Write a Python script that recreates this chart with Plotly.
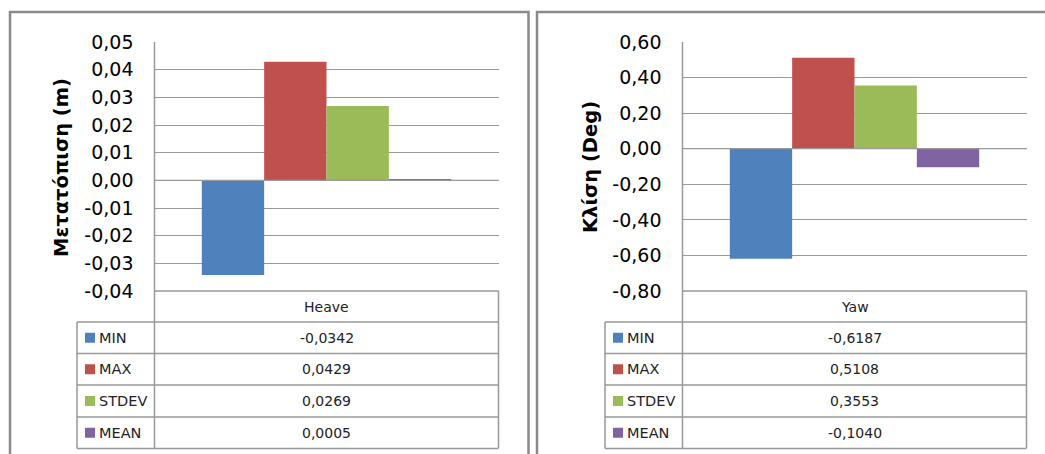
import plotly.graph_objects as go

# Statistics per motion component
stat_names = ["MIN", "MAX", "STDEV", "MEAN"]
stat_colors = ["#4F81BD", "#C0504D", "#9BBB59", "#8064A2"]

heave_label = "Heave"
heave_values = [-0.0342, 0.0429, 0.0269, 0.0005]
heave_ticks = [-0.04, -0.03, -0.02, -0.01, 0.00, 0.01, 0.02, 0.03, 0.04, 0.05]
heave_title = "Μετατόπιση (m)"

yaw_label = "Yaw"
yaw_values = [-0.6187, 0.5108, 0.3553, -0.1040]
yaw_ticks = [-0.80, -0.60, -0.40, -0.20, 0.00, 0.20, 0.40, 0.60]
yaw_title = "Κλίση (Deg)"

W, H = 1045, 454
FONT = "DejaVu Sans"
GRID = "#999999"
FRAME = "#8a8a8a"


def px(x):
    return x / W


def py(y):
    return 1 - y / H


def fmt(v, nd):
    s = f"{v:.{nd}f}".replace(".", ",")
    return "0," + "0" * nd if s.startswith("-") and float(v) == 0 else s


fig = go.Figure()
shapes = []
annotations = []

# Layout of a panel (in pixels)
PLOT_TOP, PLOT_BOTTOM = 42, 291
ROWS = [291, 322, 353.5, 385, 417, 448.5]

panels = [
    dict(values=heave_values, ticks=heave_ticks, label=heave_label, title=heave_title,
         nd_tick=2, frame=(10, 528.5), left=154.5, right=498.5, leg=77, title_xy=(61, 168)),
    dict(values=yaw_values, ticks=yaw_ticks, label=yaw_label, title=yaw_title,
         nd_tick=2, frame=(537, 1070), left=682.5, right=1026.5, leg=605, title_xy=(590, 167)),
]

for i, p in enumerate(panels):
    sfx = "" if i == 0 else str(i + 1)
    # bars
    for name, val, col in zip(stat_names, p["values"], stat_colors):
        fig.add_trace(go.Bar(
            x=[p["label"]], y=[val], name=name, marker=dict(color=col, line=dict(width=0)),
            xaxis=f"x{sfx}", yaxis=f"y{sfx}", showlegend=False, hoverinfo="skip",
        ))

    fig.update_layout({
        f"xaxis{sfx}": dict(
            domain=[px(p["left"]), px(p["right"])], range=[-0.5, 0.5], type="category",
            showticklabels=False, showgrid=False, zeroline=False, showline=False,
            anchor=f"y{sfx}", fixedrange=True, automargin=False,
        ),
        f"yaxis{sfx}": dict(
            domain=[py(PLOT_BOTTOM), py(PLOT_TOP)], range=[min(p["ticks"]), max(p["ticks"])],
            tickvals=p["ticks"], ticktext=[fmt(t, p["nd_tick"]) for t in p["ticks"]],
            showgrid=True, gridcolor=GRID, gridwidth=1.3, zeroline=False, showline=False,
            ticks="", ticklabelstandoff=20, anchor=f"x{sfx}", automargin=False,
            tickfont=dict(family=FONT, size=19, color="#000000"), fixedrange=True,
        ),
    })

    # zero gridline drawn over the bars
    shapes.append(dict(type="line", xref=f"x{sfx} domain", yref=f"y{sfx}", x0=0, x1=1,
                       y0=0, y1=0, line=dict(color=GRID, width=1.3), layer="above"))

    # panel frame
    fx0, fx1 = p["frame"]
    shapes.append(dict(type="rect", xref="paper", yref="paper",
                       x0=px(fx0), x1=px(fx1), y0=py(12), y1=py(470),
                       line=dict(color=FRAME, width=2.5), fillcolor="rgba(0,0,0,0)", layer="above"))

    L, R, G = p["left"], p["right"], p["leg"]
    # vertical axis line through plot and table
    shapes.append(dict(type="line", xref="paper", yref="paper", x0=px(L), x1=px(L),
                       y0=py(PLOT_TOP), y1=py(ROWS[-1]), line=dict(color=GRID, width=1.5)))
    # table right edge
    shapes.append(dict(type="line", xref="paper", yref="paper", x0=px(R), x1=px(R),
                       y0=py(ROWS[0]), y1=py(ROWS[-1]), line=dict(color=GRID, width=1.5)))
    # legend column left edge
    shapes.append(dict(type="line", xref="paper", yref="paper", x0=px(G), x1=px(G),
                       y0=py(ROWS[1]), y1=py(ROWS[-1]), line=dict(color=GRID, width=1.5)))
    # horizontal table lines
    shapes.append(dict(type="line", xref="paper", yref="paper", x0=px(L), x1=px(R),
                       y0=py(ROWS[0]), y1=py(ROWS[0]), line=dict(color=GRID, width=1.5)))
    for ry in ROWS[1:]:
        shapes.append(dict(type="line", xref="paper", yref="paper", x0=px(G), x1=px(R),
                           y0=py(ry), y1=py(ry), line=dict(color=GRID, width=1.5)))

    # header cell
    annotations.append(dict(xref="paper", yref="paper", x=px((L + R) / 2),
                            y=py((ROWS[0] + ROWS[1]) / 2), text=p["label"], showarrow=False,
                            xanchor="center", yanchor="middle",
                            font=dict(family=FONT, size=14, color="#222222")))

    # data rows with legend keys
    for k, (name, val, col) in enumerate(zip(stat_names, p["values"], stat_colors)):
        cy = (ROWS[k + 1] + ROWS[k + 2]) / 2
        shapes.append(dict(type="rect", xref="paper", yref="paper",
                           x0=px(G + 8), x1=px(G + 18), y0=py(cy - 5), y1=py(cy + 5),
                           line=dict(width=0), fillcolor=col))
        annotations.append(dict(xref="paper", yref="paper", x=px(G + 20), y=py(cy),
                                text=name, showarrow=False, xanchor="left", yanchor="middle",
                                font=dict(family=FONT, size=14.5, color="#222222")))
        annotations.append(dict(xref="paper", yref="paper", x=px((L + R) / 2), y=py(cy),
                                text=fmt(val, 4), showarrow=False, xanchor="center",
                                yanchor="middle",
                                font=dict(family=FONT, size=14, color="#222222")))

    # y-axis title
    tx, ty = p["title_xy"]
    annotations.append(dict(xref="paper", yref="paper", x=px(tx), y=py(ty), text=f"<b>{p['title']}</b>",
                            textangle=-90, showarrow=False, xanchor="center", yanchor="middle",
                            font=dict(family=FONT, size=19.5, color="#000000")))

fig.update_layout(
    width=W, height=H, autosize=False,
    margin=dict(l=0, r=0, t=0, b=0, pad=0),
    paper_bgcolor="white", plot_bgcolor="white",
    barmode="group", bargap=0.275, bargroupgap=0,
    shapes=shapes, annotations=annotations,
    showlegend=False,
)

fig.write_html("out.html")
